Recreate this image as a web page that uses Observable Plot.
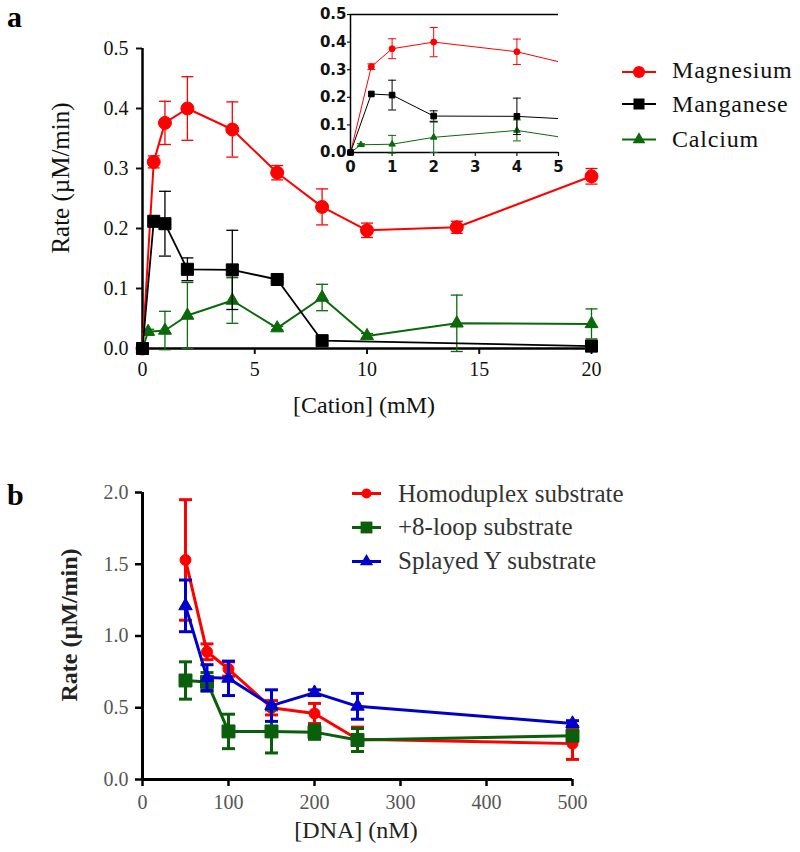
<!DOCTYPE html>
<html><head><meta charset="utf-8">
<script src="https://cdn.jsdelivr.net/npm/d3@7"></script>
<script src="https://cdn.jsdelivr.net/npm/@observablehq/plot@0.6"></script>
<style>
body{margin:0;background:#fff;}
#wrap{position:relative;width:800px;height:852px;overflow:hidden;background:#fff;}
#wrap > svg{position:absolute;}
#plotA text, #plotB text, #overlay text{font-family:"Liberation Serif","Times New Roman",serif !important;}
#plotA text{font-size:20px;}
#plotB text{font-size:20px;}
#plotInset text{font-family:"DejaVu Sans",Verdana,sans-serif !important;font-weight:bold;font-size:15px;}
#plotB g[aria-label="y-axis tick label"], #plotB g[aria-label="x-axis tick label"]{fill:#555;}
</style></head><body><div id="wrap"></div>
<script>
// ---------- Panel a data ----------
const cationMg = [0, 0.5, 1, 2, 4, 6, 8, 10, 14, 20];
const rateMg   = [0, 0.311, 0.376, 0.400, 0.365, 0.293, 0.236, 0.197, 0.202, 0.287];
const errMg    = [0, 0.010, 0.036, 0.053, 0.046, 0.012, 0.030, 0.012, 0.010, 0.013];
const cationMn = [0, 0.5, 1, 2, 4, 6, 8, 20];
const rateMn   = [0, 0.212, 0.208, 0.132, 0.131, 0.115, 0.013, 0.004];
const errMn    = [0, 0, 0.054, 0.019, 0.066, 0.004, 0, 0];
const cationCa = [0, 0.25, 1, 2, 4, 6, 8, 10, 14, 20];
const rateCa   = [0, 0.028, 0.030, 0.055, 0.080, 0.034, 0.085, 0.021, 0.042, 0.041];
const errCa    = [0, 0.004, 0.032, 0.055, 0.038, 0.003, 0.022, 0.004, 0.047, 0.025];
const xTicksA = [0, 5, 10, 15, 20];
const yTicksA = [0, 0.1, 0.2, 0.3, 0.4, 0.5];
const xTicksInset = [0, 1, 2, 3, 4, 5];
const legendNamesA = ["Magnesium", "Manganese", "Calcium"];

// ---------- Panel b data ----------
const dnaHomo   = [50, 75, 100, 150, 200, 250, 500];
const rateHomo  = [1.53, 0.89, 0.77, 0.50, 0.46, 0.28, 0.25];
const errHomo   = [0.42, 0.055, 0.05, 0.05, 0.07, 0.085, 0.11];
const dnaLoop   = [50, 75, 100, 150, 200, 250, 500];
const rateLoop  = [0.69, 0.68, 0.335, 0.335, 0.33, 0.275, 0.305];
const errLoop   = [0.13, 0.065, 0.12, 0.15, 0.05, 0.08, 0.03];
const dnaSplay  = [50, 75, 100, 150, 200, 250, 500];
const rateSplay = [1.21, 0.71, 0.705, 0.515, 0.605, 0.51, 0.39];
const errSplay  = [0.18, 0.09, 0.12, 0.11, 0.02, 0.09, 0.02];
const xTicksB = [0, 100, 200, 300, 400, 500];
const yTicksB = [0, 0.5, 1.0, 1.5, 2.0];
const legendNamesB = ["Homoduplex substrate", "+8-loop substrate", "Splayed Y substrate"];

// ---------- helpers ----------
const RED = "#ff0000", BLACK = "#000000", GREEN_A = "#0a6a0a", GREEN_B = "#0b5e0b", BLUE = "#0000cc";
const serif = '"Liberation Serif", "Times New Roman", serif';
const rows = (xs, ys, es) => xs.map((x, i) => ({x, y: ys[i], e: es[i]}));
const capSym = {draw(ctx, size) { const r = Math.sqrt(size / Math.PI); ctx.moveTo(-r, 0); ctx.lineTo(r, 0); }};

function seriesMarks(data, o) {
  const pts = o.xmax == null ? data : data.filter(d => d.x <= o.xmax);
  const errs = pts.filter(d => d.e > 0);
  return [
    Plot.line(data, {x: "x", y: "y", stroke: o.color, strokeWidth: o.lw, clip: !!o.clip}),
    Plot.ruleX(errs, {x: "x", y1: d => d.y - d.e, y2: d => d.y + d.e, stroke: o.color, strokeWidth: o.ew}),
    Plot.dot(errs, {x: "x", y: d => d.y + d.e, symbol: capSym, r: o.cap, stroke: o.color, strokeWidth: o.ew}),
    Plot.dot(errs, {x: "x", y: d => d.y - d.e, symbol: capSym, r: o.cap, stroke: o.color, strokeWidth: o.ew}),
    Plot.dot(pts, {x: "x", y: "y", symbol: o.symbol, r: o.r, fill: o.color, stroke: o.color, strokeWidth: 1})
  ];
}

const mg = rows(cationMg, rateMg, errMg);
const mn = rows(cationMn, rateMn, errMn);
const ca = rows(cationCa, rateCa, errCa);
const homo = rows(dnaHomo, rateHomo, errHomo);
const loop = rows(dnaLoop, rateLoop, errLoop);
const splay = rows(dnaSplay, rateSplay, errSplay);

const wrap = document.getElementById("wrap");
function place(svg, left, top, id) {
  svg.style.position = "absolute"; svg.style.left = left + "px"; svg.style.top = top + "px";
  if (id) svg.id = id;
  wrap.appendChild(svg);
}

// ---------- Panel a: main ----------
const plotA = Plot.plot({
  width: 800, height: 420,
  marginLeft: 142, marginRight: 209, marginTop: 48, marginBottom: 72,
  x: {domain: [0, 20]}, y: {domain: [0, 0.5]},
  style: {fontFamily: serif, fontSize: "20px", color: "#111", background: "transparent", overflow: "visible"},
  marks: [
    Plot.axisX({ticks: xTicksA, tickSize: 6, tickPadding: 7, strokeWidth: 2, label: null, tickFormat: d3.format("d")}),
    Plot.axisY({ticks: yTicksA, tickSize: 6, tickPadding: 8, strokeWidth: 2, label: null, tickFormat: d3.format(".1f")}),
    Plot.ruleX([0], {stroke: "#000", strokeWidth: 2.5}),
    Plot.ruleY([0], {stroke: "#000", strokeWidth: 2.5}),
    ...seriesMarks(ca, {color: GREEN_A, symbol: "triangle", r: 4.8, lw: 2, ew: 1.3, cap: 6}),
    ...seriesMarks(mg, {color: RED, symbol: "circle", r: 6.5, lw: 2, ew: 1.3, cap: 6}),
    ...seriesMarks(mn, {color: BLACK, symbol: "square", r: 6.8, lw: 1.8, ew: 1.3, cap: 6})
  ]
});
place(plotA, 0, 0, "plotA");

// ---------- Panel a: inset ----------
const plotInset = Plot.plot({
  width: 268, height: 180,
  marginLeft: 50, marginRight: 10, marginTop: 14, marginBottom: 28,
  x: {domain: [0, 5]}, y: {domain: [0, 0.5]},
  style: {fontFamily: '"DejaVu Sans", Verdana, sans-serif', fontSize: "15px", fontWeight: "bold", color: "#111", background: "white", overflow: "visible"},
  marks: [
    Plot.axisX({ticks: xTicksInset, tickSize: 4, tickPadding: 5, strokeWidth: 1.2, label: null, tickFormat: d3.format("d")}),
    Plot.axisY({ticks: yTicksA, tickSize: 3, tickPadding: 1, strokeWidth: 1.2, label: null, tickFormat: d3.format(".1f")}),
    Plot.ruleX([0], {stroke: "#000", strokeWidth: 1.5}),
    Plot.ruleY([0], {stroke: "#000", strokeWidth: 1.5}),
    Plot.ruleY([0.5], {stroke: "#000", strokeWidth: 1.5}),
    ...seriesMarks(ca, {color: GREEN_A, symbol: "triangle", r: 2.4, lw: 1, ew: 1, cap: 4, clip: true, xmax: 5}),
    ...seriesMarks(mg, {color: RED, symbol: "circle", r: 3, lw: 1, ew: 1, cap: 4, clip: true, xmax: 5}),
    ...seriesMarks(mn, {color: BLACK, symbol: "square", r: 3.2, lw: 1, ew: 1, cap: 4, clip: true, xmax: 5})
  ]
});
place(plotInset, 300, 0, "plotInset");

// ---------- Panel b ----------
const plotB = Plot.plot({
  width: 800, height: 422,
  marginLeft: 142, marginRight: 228, marginTop: 62, marginBottom: 73,
  x: {domain: [0, 500]}, y: {domain: [0, 2]},
  style: {fontFamily: serif, fontSize: "20px", color: "#000", background: "transparent", overflow: "visible"},
  marks: [
    Plot.axisX({ticks: xTicksB, tickSize: 7, tickPadding: 8, strokeWidth: 2.5, label: null, tickFormat: d3.format("d")}),
    Plot.axisY({ticks: yTicksB, tickSize: 7, tickPadding: 7, strokeWidth: 2.5, label: null, tickFormat: d3.format(".1f")}),
    Plot.ruleX([0], {stroke: "#000", strokeWidth: 3}),
    Plot.ruleY([0], {stroke: "#000", strokeWidth: 3}),
    ...seriesMarks(homo, {color: RED, symbol: "circle", r: 5.5, lw: 3, ew: 3, cap: 6.5}),
    ...seriesMarks(loop, {color: GREEN_B, symbol: "square", r: 7.3, lw: 3, ew: 3, cap: 6.5}),
    ...seriesMarks(splay, {color: BLUE, symbol: "triangle", r: 5, lw: 3, ew: 3, cap: 6.5})
  ]
});
place(plotB, 0, 430, "plotB");

// ---------- labels & legends ----------
const ov = d3.select("#wrap").append("svg").attr("id", "overlay")
  .attr("width", 800).attr("height", 852)
  .style("position", "absolute").style("left", "0px").style("top", "0px")
  .attr("font-family", serif).style("pointer-events", "none");

ov.append("text").attr("x", 7).attr("y", 27).attr("font-size", 30).attr("font-weight", "bold").attr("fill", "#000").text("a");
ov.append("text").attr("x", 7).attr("y", 505).attr("font-size", 30).attr("font-weight", "bold").attr("fill", "#000").text("b");

ov.append("text").attr("transform", "translate(61,178) rotate(-90)").attr("dy", "0.32em")
  .attr("text-anchor", "middle").attr("font-size", 25).attr("fill", "#111").text("Rate (\u00b5M/min)");
ov.append("text").attr("x", 364).attr("y", 413).attr("text-anchor", "middle")
  .attr("font-size", 24).attr("fill", "#111").text("[Cation] (mM)");

ov.append("text").attr("transform", "translate(69,625) rotate(-90)").attr("dy", "0.32em")
  .attr("text-anchor", "middle").attr("font-size", 24).attr("font-weight", "bold").attr("fill", "#222").text("Rate (\u00b5M/min)");
ov.append("text").attr("x", 356).attr("y", 838).attr("text-anchor", "middle")
  .attr("font-size", 24).attr("fill", "#222").text("[DNA] (nM)");

function legend(names, colors, syms, sizes, lineYs, baseYs, o) {
  names.forEach((name, i) => {
    ov.append("line").attr("x1", o.x1).attr("x2", o.x2).attr("y1", lineYs[i]).attr("y2", lineYs[i])
      .attr("stroke", colors[i]).attr("stroke-width", o.lw);
    ov.append("path").attr("transform", `translate(${(o.x1 + o.x2) / 2},${lineYs[i]})`)
      .attr("d", d3.symbol(syms[i], sizes[i])()).attr("fill", colors[i]);
    ov.append("text").attr("x", o.xt).attr("y", baseYs[i]).attr("font-size", o.fs)
      .attr("letter-spacing", o.ls).attr("fill", o.fill).text(name);
  });
}
legend(legendNamesA, [RED, BLACK, GREEN_A], [d3.symbolCircle, d3.symbolSquare, d3.symbolTriangle],
  [115, 121, 70], [72, 104, 139.5], [77.5, 111.5, 146.5],
  {x1: 622, x2: 656, xt: 672, fs: 24, ls: 0.8, lw: 2, fill: "#111"});
legend(legendNamesB, [RED, GREEN_B, BLUE], [d3.symbolCircle, d3.symbolSquare, d3.symbolTriangle],
  [80, 140, 75], [493.5, 527.5, 561.5], [501.5, 534.5, 568.5],
  {x1: 352, x2: 381, xt: 398, fs: 25, ls: 0, lw: 3, fill: "#333"});
</script></body></html>
